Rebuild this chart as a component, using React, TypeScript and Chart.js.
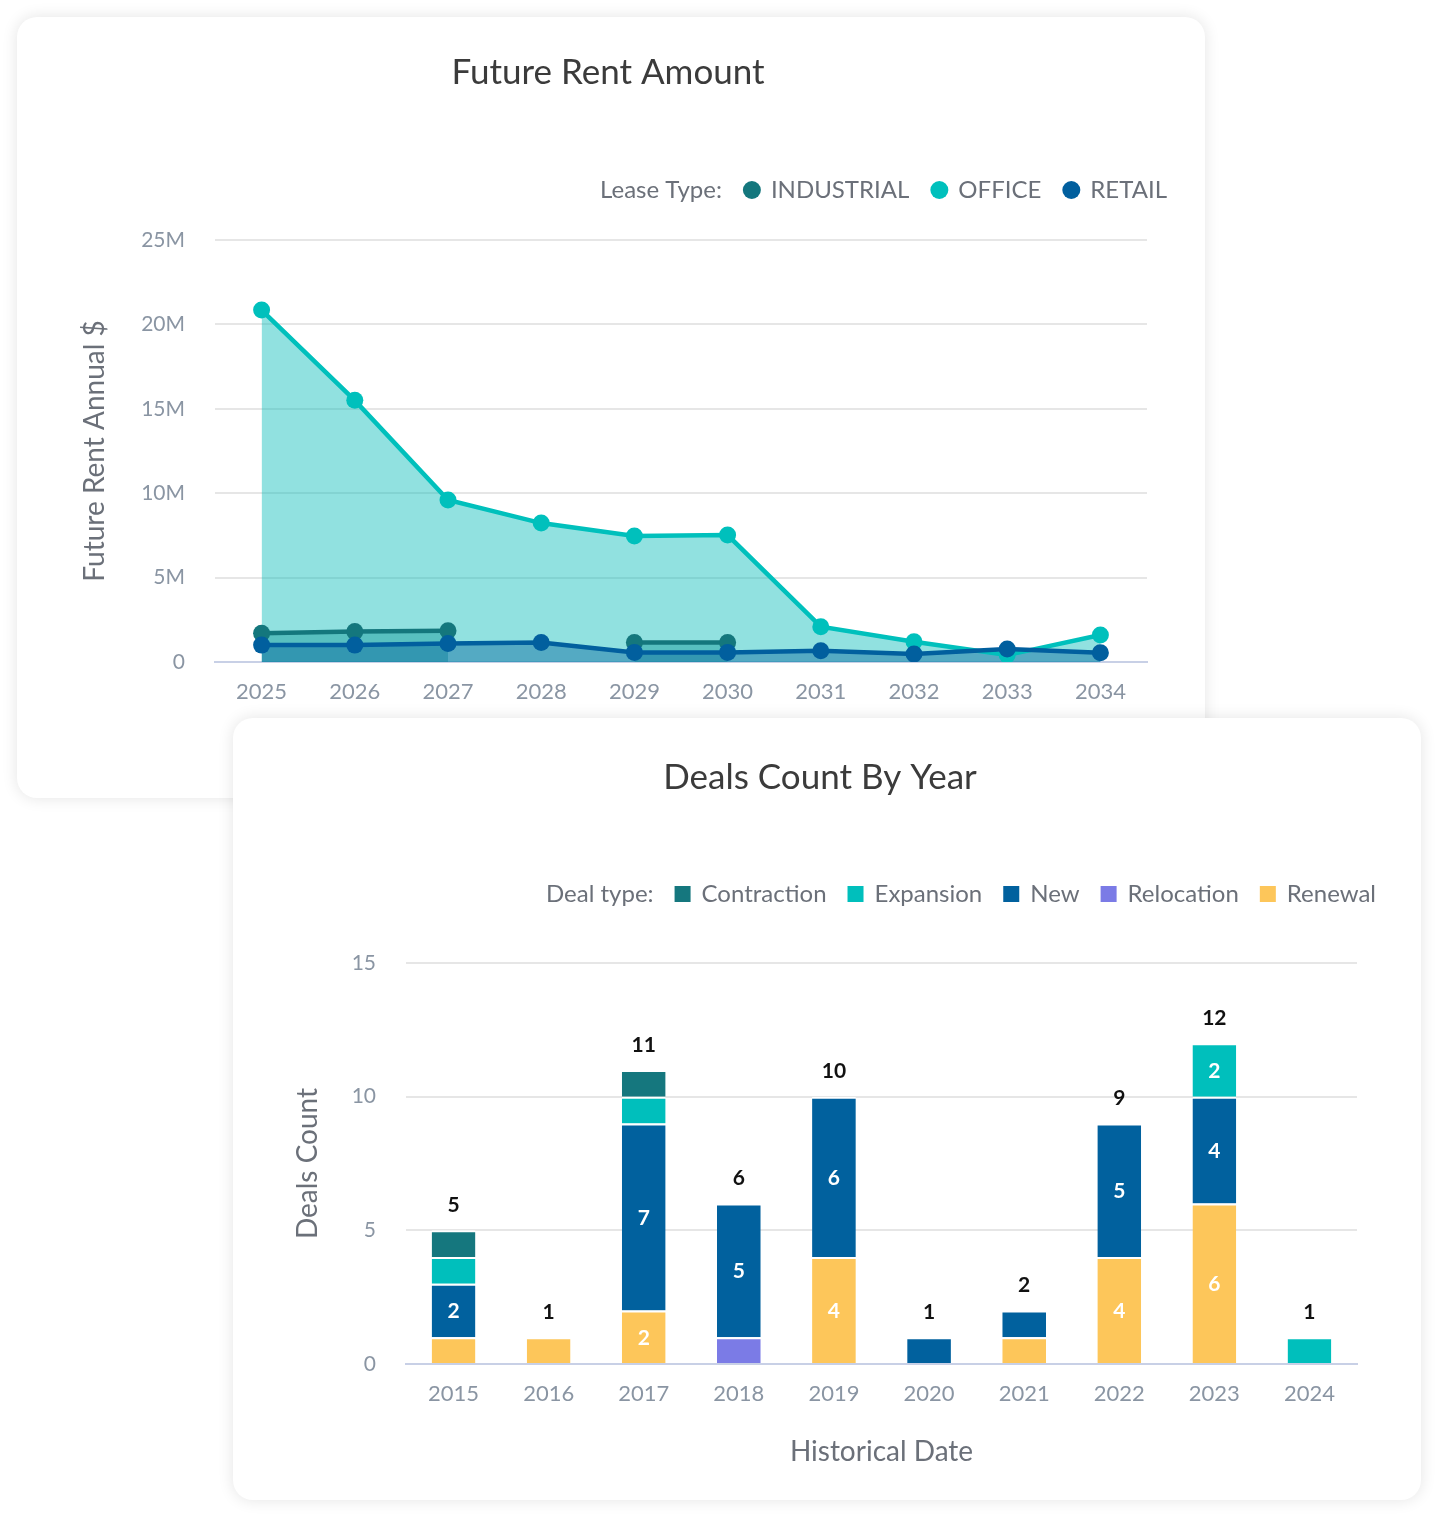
import React, { useEffect, useRef } from 'react';
import { Chart, registerables } from 'chart.js';

Chart.register(...registerables);

// ---------- Data: Future Rent Amount ----------
const rentYears = ['2025', '2026', '2027', '2028', '2029', '2030', '2031', '2032', '2033', '2034'];
const industrialRent = [1700000, 1800000, 1850000, null, 1150000, 1150000, null, null, null, null];
const officeRent = [20850000, 15500000, 9600000, 8230000, 7460000, 7520000, 2090000, 1200000, 410000, 1600000];
const retailRent = [1000000, 1000000, 1100000, 1150000, 570000, 570000, 670000, 470000, 770000, 550000];
const rentLeaseTypes = ['INDUSTRIAL', 'OFFICE', 'RETAIL'];
const rentColors = ['#14777d', '#00c0bc', '#015f9e'];
const rentFills = ['rgba(20,119,125,0.42)', 'rgba(0,186,182,0.43)', 'rgba(1,95,158,0.42)'];

// ---------- Data: Deals Count By Year ----------
const dealYears = ['2015', '2016', '2017', '2018', '2019', '2020', '2021', '2022', '2023', '2024'];
const renewalDeals = [1, 1, 2, null, 4, null, 1, 4, 6, null];
const relocationDeals = [null, null, null, 1, null, null, null, null, null, null];
const newDeals = [2, null, 7, 5, 6, 1, 1, 5, 4, null];
const expansionDeals = [1, null, 1, null, null, null, null, null, 2, 1];
const contractionDeals = [1, null, 1, null, null, null, null, null, null, null];
const dealColors = { Renewal: '#fdc65a', Relocation: '#7b7be6', New: '#01619e', Expansion: '#00bfbc', Contraction: '#15777e' };

const FONT = 'Lato, "Noto Sans", sans-serif';
const TICK_COLOR = '#8a95a3';
const LABEL_COLOR = '#6b7079';

// Inline legend drawn from the datasets
const inlineLegend = {
  id: 'inlineLegend',
  afterDraw(chart: any, _args: any, opts: any) {
    if (!opts || !opts.prefix) return;
    const { ctx } = chart;
    let ds = chart.data.datasets.slice();
    if (opts.reverse) ds = ds.reverse();
    const items = ds.map((d: any) => ({ text: d.label, color: d[opts.colorKey] }));
    ctx.save();
    ctx.font = `${opts.size}px ${FONT}`;
    const gapBefore = opts.itemGap;
    const gapAfter = opts.markerGap;
    let width = ctx.measureText(opts.prefix).width;
    items.forEach((it: any) => {
      width += gapBefore + gapAfter + ctx.measureText(it.text).width;
    });
    let x = opts.right - width;
    const y = opts.y;
    ctx.textBaseline = 'middle';
    ctx.textAlign = 'left';
    ctx.fillStyle = LABEL_COLOR;
    ctx.fillText(opts.prefix, x, y);
    x += ctx.measureText(opts.prefix).width;
    const r = opts.markerSize / 2;
    items.forEach((it: any) => {
      x += gapBefore;
      ctx.fillStyle = it.color;
      if (opts.marker === 'circle') {
        ctx.beginPath();
        ctx.arc(x, y, r, 0, Math.PI * 2);
        ctx.fill();
      } else {
        ctx.fillRect(x - r, y - r, r * 2, r * 2);
      }
      x += gapAfter;
      ctx.fillStyle = LABEL_COLOR;
      ctx.fillText(it.text, x, y);
      x += ctx.measureText(it.text).width;
    });
    ctx.restore();
  },
};

// Bar value labels + totals
const barLabels = {
  id: 'barLabels',
  afterDatasetsDraw(chart: any) {
    const { ctx } = chart;
    ctx.save();
    ctx.font = `bold 21px ${FONT}`;
    ctx.textAlign = 'center';
    ctx.textBaseline = 'middle';
    chart.data.datasets.forEach((ds: any, di: number) => {
      const meta = chart.getDatasetMeta(di);
      meta.data.forEach((bar: any, i: number) => {
        const v = ds.data[i];
        if (v == null || v < 2) return;
        const { x, y, base } = bar.getProps(['x', 'y', 'base'], true);
        ctx.fillStyle = '#ffffff';
        ctx.fillText(String(v), x, (y + base) / 2 + 1);
      });
    });
    chart.data.labels.forEach((_l: any, i: number) => {
      let total = 0;
      let top = Infinity;
      let x = 0;
      chart.data.datasets.forEach((ds: any, di: number) => {
        const v = ds.data[i];
        if (v == null) return;
        total += v;
        const el = chart.getDatasetMeta(di).data[i];
        top = Math.min(top, el.y);
        x = el.x;
      });
      if (total > 0) {
        ctx.fillStyle = '#111111';
        ctx.fillText(String(total), x, top - 25);
      }
    });
    ctx.restore();
  },
};

function RentChart() {
  const ref = useRef<HTMLCanvasElement | null>(null);
  useEffect(() => {
    if (!ref.current) return;
    const data = [industrialRent, officeRent, retailRent];
    const chart = new Chart(ref.current, {
      type: 'line',
      data: {
        labels: rentYears,
        datasets: rentLeaseTypes.map((name, i) => ({
          label: name,
          data: data[i],
          borderColor: rentColors[i],
          backgroundColor: rentFills[i],
          pointBackgroundColor: rentColors[i],
          pointBorderColor: rentColors[i],
          pointBorderWidth: 0,
          pointRadius: 8.5,
          borderWidth: 4.5,
          fill: 'origin',
          tension: 0,
          spanGaps: false,
          order: [2, 1, 0][i],
        })),
      },
      options: {
        animation: false,
        responsive: false,
        layout: { padding: { left: 52, right: 58, top: 0, bottom: 0 } },
        plugins: {
          legend: { display: false },
          tooltip: { enabled: false },
          filler: { drawTime: 'beforeDatasetsDraw' },
          title: {
            display: true,
            text: 'Future Rent Amount',
            color: '#3b3b3b',
            font: { family: FONT, size: 35, weight: 'normal' },
            padding: { top: 35, bottom: 146 },
          },
          inlineLegend: {
            prefix: 'Lease Type:',
            colorKey: 'borderColor',
            marker: 'circle',
            markerSize: 18,
            size: 24,
            itemGap: 30,
            markerGap: 19,
            right: 1150,
            y: 173,
          },
        } as any,
        scales: {
          x: {
            offset: true,
            grid: { display: false, drawTicks: false },
            border: { display: true, color: '#c8d0e6', width: 2 },
            ticks: { color: TICK_COLOR, font: { family: FONT, size: 22 }, padding: 17, maxRotation: 0 },
            afterFit: (s: any) => { s.height = 136; },
          },
          y: {
            min: 0,
            max: 25000000,
            grid: { color: '#e6e6e6', lineWidth: 2, drawTicks: false },
            border: { display: false },
            ticks: {
              stepSize: 5000000,
              color: TICK_COLOR,
              font: { family: FONT, size: 21 },
              padding: 30,
              callback: (v: any) => (v === 0 ? '0' : `${v / 1000000}M`),
            },
            title: {
              display: true,
              text: 'Future Rent Annual $',
              color: LABEL_COLOR,
              font: { family: FONT, size: 28 },
              padding: { top: 9.2, bottom: 0 },
            },
            afterFit: (s: any) => { s.width = 146; },
          },
        },
      },
      plugins: [inlineLegend],
    } as any);
    return () => chart.destroy();
  }, []);
  return <canvas ref={ref} width={1188} height={781} style={{ width: 1188, height: 781, display: 'block' }} />;
}

function DealsChart() {
  const ref = useRef<HTMLCanvasElement | null>(null);
  useEffect(() => {
    if (!ref.current) return;
    const series: [string, (number | null)[]][] = [
      ['Renewal', renewalDeals],
      ['Relocation', relocationDeals],
      ['New', newDeals],
      ['Expansion', expansionDeals],
      ['Contraction', contractionDeals],
    ];
    const chart = new Chart(ref.current, {
      type: 'bar',
      data: {
        labels: dealYears,
        datasets: series.map(([name, vals]) => ({
          label: name,
          data: vals,
          backgroundColor: (dealColors as any)[name],
          borderColor: '#ffffff',
          borderWidth: { top: 2, left: 0, right: 0, bottom: 0 },
          borderSkipped: false,
          categoryPercentage: 1,
          barPercentage: 0.46,
        })),
      },
      options: {
        animation: false,
        responsive: false,
        layout: { padding: { left: 50, right: 64, top: 0, bottom: 0 } },
        plugins: {
          legend: { display: false },
          tooltip: { enabled: false },
          title: {
            display: true,
            text: 'Deals Count By Year',
            color: '#3b3b3b',
            font: { family: FONT, size: 35, weight: 'normal' },
            padding: { top: 39, bottom: 164 },
          },
          inlineLegend: {
            prefix: 'Deal type:',
            colorKey: 'backgroundColor',
            reverse: true,
            marker: 'square',
            markerSize: 16,
            size: 24,
            itemGap: 29,
            markerGap: 19,
            right: 1143,
            y: 176,
          },
        } as any,
        scales: {
          x: {
            stacked: true,
            grid: { display: false, drawTicks: false },
            border: { display: true, color: '#c8d0e6', width: 2 },
            ticks: { color: TICK_COLOR, font: { family: FONT, size: 22 }, padding: 17, maxRotation: 0 },
            title: {
              display: true,
              text: 'Historical Date',
              color: LABEL_COLOR,
              font: { family: FONT, size: 28 },
              padding: { top: 0, bottom: 31.2 },
            },
            afterFit: (s: any) => { s.height = 136; },
          },
          y: {
            stacked: true,
            min: 0,
            max: 15,
            grid: { color: '#e6e6e6', lineWidth: 2, drawTicks: false },
            border: { display: false },
            ticks: { stepSize: 5, color: TICK_COLOR, font: { family: FONT, size: 21 }, padding: 30 },
            title: {
              display: true,
              text: 'Deals Count',
              color: LABEL_COLOR,
              font: { family: FONT, size: 28 },
              padding: { top: 8.2, bottom: 0 },
            },
            afterFit: (s: any) => { s.width = 123; },
          },
        },
      },
      plugins: [inlineLegend, barLabels],
    } as any);
    return () => chart.destroy();
  }, []);
  return <canvas ref={ref} width={1188} height={782} style={{ width: 1188, height: 782, display: 'block' }} />;
}

const cardStyle: React.CSSProperties = {
  position: 'absolute',
  background: '#ffffff',
  borderRadius: 20,
  boxShadow: '0 0 16px rgba(0,0,0,0.11)',
  overflow: 'hidden',
};

export default function App() {
  return (
    <div style={{ position: 'absolute', left: 0, top: 0, width: 1437, height: 1516, background: '#ffffff', overflow: 'hidden' }}>
      <div style={{ ...cardStyle, left: 17, top: 17, width: 1188, height: 781 }}>
        <RentChart />
      </div>
      <div style={{ ...cardStyle, left: 233, top: 718, width: 1188, height: 782 }}>
        <DealsChart />
      </div>
    </div>
  );
}
